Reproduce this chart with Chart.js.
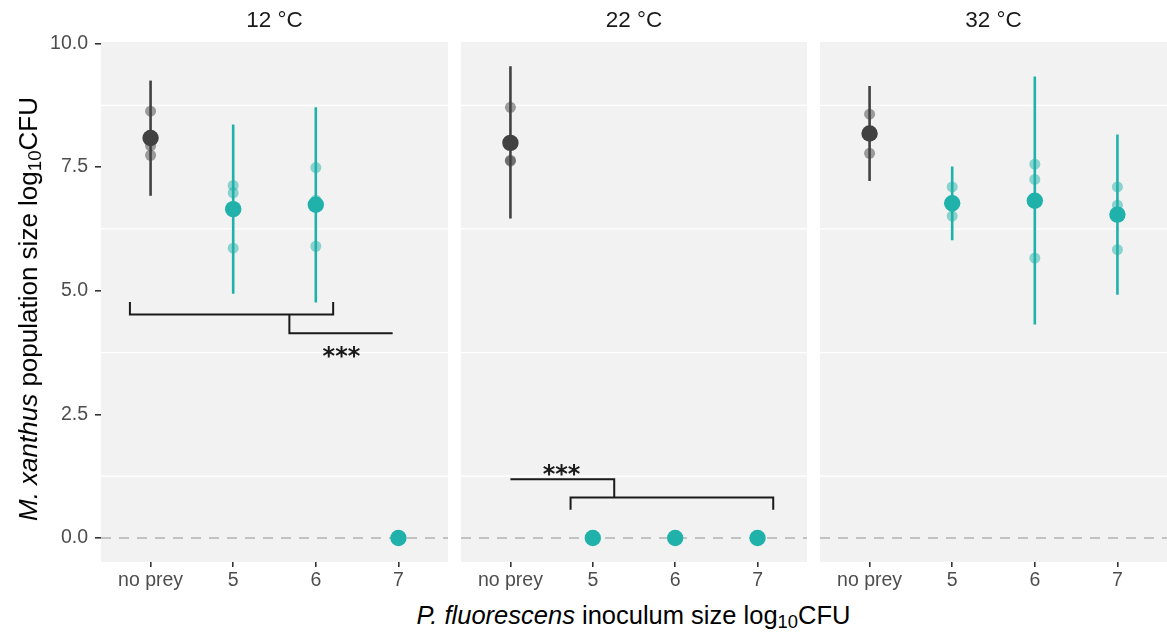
<!DOCTYPE html>
<html><head><meta charset="utf-8">
<script src="https://cdn.jsdelivr.net/npm/chart.js@4.4.1/dist/chart.umd.min.js"></script>
<style>
html,body{margin:0;padding:0;background:#fff;width:1167px;height:633px;overflow:hidden;position:relative;font-family:"Liberation Sans",Arial,sans-serif;}
canvas{position:absolute;top:0;}
.anchor{position:absolute;width:0;height:0;}
.title{position:absolute;white-space:nowrap;font-size:25.5px;line-height:1.15;color:#000;transform:translate(-50%,-50%);}
.rot{transform:translate(-50%,-50%) rotate(-90deg);font-size:26px;}
.title sub{font-size:0.72em;vertical-align:-0.22em;line-height:0;}
</style></head>
<body>
<canvas id="c1" width="455" height="600" style="left:0px;width:455px;height:600px"></canvas>
<canvas id="c2" width="358" height="600" style="left:455px;width:358px;height:600px"></canvas>
<canvas id="c3" width="354" height="600" style="left:813px;width:354px;height:600px"></canvas>
<div class="anchor" style="left:28.5px;top:309px"><div class="title rot"><i>M. xanthus</i> population size log<sub>10</sub>CFU</div></div>
<div class="anchor" style="left:633.5px;top:615.5px"><div class="title"><i>P. fluorescens</i> inoculum size log<sub>10</sub>CFU</div></div>
<script>
// ---- data ----
const categories = ['no prey', '5', '6', '7'];
const panelTitles = ['12 °C', '22 °C', '32 °C'];
const yTickValues = [0, 2.5, 5, 7.5, 10];
const yMinorValues = [1.25, 3.75, 6.25, 8.75];

const mean12 = [8.09, 6.65, 6.74, 0];
const low12  = [6.92, 4.94, 4.76, 0];
const high12 = [9.25, 8.36, 8.71, 0];
const reps12 = [[8.63, 7.93, 7.74], [7.13, 6.98, 5.86], [7.49, 6.83, 5.90], [0, 0, 0]];

const mean22 = [7.99, 0, 0, 0];
const low22  = [6.46, 0, 0, 0];
const high22 = [9.54, 0, 0, 0];
const reps22 = [[8.71, 7.64, 7.62], [0, 0, 0], [0, 0, 0], [0, 0, 0]];

const mean32 = [8.18, 6.77, 6.82, 6.54];
const low32  = [7.22, 6.02, 4.32, 4.92];
const high32 = [9.14, 7.51, 9.33, 8.16];
const reps32 = [[8.57, 8.19, 7.78], [7.10, 6.70, 6.51], [7.56, 7.25, 5.66], [7.10, 6.73, 5.83]];

// significance brackets (data coordinates) and star label positions
const bracket12 = [[[0.75, 4.77], [0.75, 4.52], [3.21, 4.52], [3.21, 4.77]], [[2.68, 4.52], [2.68, 4.14], [3.93, 4.14]]];
const star12 = [3.31, 3.80];
const bracket22 = [[[1.0, 1.19], [2.26, 1.19], [2.26, 0.82]], [[1.73, 0.57], [1.73, 0.82], [4.19, 0.82], [4.19, 0.57]]];
const star22 = [1.62, 1.41];
const starText = '***';

// ---- styles ----
const GREY = '#414141';
const GREY_A = 'rgba(65,65,65,0.5)';
const TEAL = '#20B2AA';
const TEAL_A = 'rgba(32,178,170,0.5)';
const PANEL_BG = '#F2F2F2';
const TICK_COL = '#333333';
const LABEL_COL = '#4D4D4D';
const FONT = '"Liberation Sans", Arial, sans-serif';

const panelPlugin = {
  id: 'panel',
  beforeDraw(chart) {
    const {ctx, chartArea: a} = chart;
    ctx.save();
    ctx.fillStyle = PANEL_BG;
    ctx.fillRect(a.left, a.top, a.right - a.left, a.bottom - a.top);
    ctx.restore();
  },
  beforeDatasetsDraw(chart) {
    const {ctx, chartArea: a, scales} = chart;
    const y = scales.y;
    ctx.save();
    ctx.strokeStyle = '#FFFFFF';
    ctx.lineWidth = 1.3;
    yMinorValues.forEach(v => {
      const py = y.getPixelForValue(v);
      ctx.beginPath(); ctx.moveTo(a.left, py); ctx.lineTo(a.right, py); ctx.stroke();
    });
    const p0 = y.getPixelForValue(0);
    ctx.strokeStyle = '#B3B3B3';
    ctx.lineWidth = 1.6;
    ctx.setLineDash([10, 8]);
    ctx.beginPath(); ctx.moveTo(a.left, p0); ctx.lineTo(a.right, p0); ctx.stroke();
    ctx.restore();
  },
  afterDraw(chart) {
    const {ctx, chartArea: a, scales} = chart;
    const o = chart.options.plugins.panel;
    ctx.save();
    ctx.fillStyle = '#1A1A1A';
    ctx.font = '22.5px ' + FONT;
    ctx.textAlign = 'center';
    ctx.textBaseline = 'middle';
    ctx.fillText(o.title, (a.left + a.right) / 2, 21);
    if (o.star) {
      ctx.font = 'bold 24px "DejaVu Sans"';
      ctx.fillStyle = '#1A1A1A';
      ctx.textBaseline = 'alphabetic';
      const sx = scales.x.getPixelForValue(o.star[0]);
      const sy = scales.y.getPixelForValue(o.star[1]);
      ctx.fillText(starText, sx, sy + 14);
    }
    ctx.restore();
  }
};

function makePanel(id, idx, means, lows, highs, reps, brackets, star, showY, padL, padR) {
  const meanData = means.map((m, i) => ({x: i + 1, y: m}));
  const meanCols = means.map((m, i) => i === 0 ? GREY : TEAL);
  const repData = [], repCols = [];
  reps.forEach((arr, i) => arr.forEach(v => { repData.push({x: i + 1, y: v}); repCols.push(i === 0 ? GREY_A : TEAL_A); }));
  const errGrey = [{x: 1, y: lows[0]}, {x: 1, y: highs[0]}];
  const errTeal = [];
  for (let i = 1; i < means.length; i++) {
    errTeal.push({x: i + 1, y: lows[i]}, {x: i + 1, y: highs[i]}, {x: i + 1, y: null});
  }
  const brData = [];
  (brackets || []).forEach(poly => { poly.forEach(p => brData.push({x: p[0], y: p[1]})); brData.push({x: poly[poly.length - 1][0], y: null}); });

  const datasets = [
    {data: meanData, backgroundColor: meanCols, pointRadius: 8.2, pointBorderWidth: 0, order: 0},
    {data: repData, backgroundColor: repCols, pointRadius: 5.5, pointBorderWidth: 0, order: 1},
    {data: errGrey, showLine: true, borderColor: GREY, borderWidth: 2.6, pointRadius: 0, borderCapStyle: 'butt', order: 2},
    {data: errTeal, showLine: true, borderColor: TEAL, borderWidth: 2.6, pointRadius: 0, borderCapStyle: 'butt', spanGaps: false, order: 2},
    {data: brData, showLine: true, borderColor: '#1A1A1A', borderWidth: 2, pointRadius: 0, borderCapStyle: 'butt', borderJoinStyle: 'miter', spanGaps: false, order: 3}
  ];

  const yScale = {
    type: 'linear', min: -0.485, max: 10.03, display: showY,
    afterBuildTicks: s => { s.ticks = yTickValues.map(v => ({value: v})); },
    ticks: {callback: v => Number(v).toFixed(1), color: LABEL_COL, padding: 7, font: {family: FONT, size: 19.5}},
    grid: {drawOnChartArea: false, drawTicks: true, tickLength: 6, color: TICK_COL, lineWidth: 1.6},
    border: {display: false}
  };
  if (showY) yScale.afterFit = s => { s.width = 101; };

  return new Chart(document.getElementById(id), {
    type: 'scatter',
    data: {datasets},
    plugins: [panelPlugin],
    options: {
      responsive: false,
      animation: false,
      events: [],
      layout: {autoPadding: false, padding: {top: 42, left: padL, right: padR, bottom: 0}},
      plugins: {legend: {display: false}, tooltip: {enabled: false}, panel: {title: panelTitles[idx], star}},
      scales: {
        x: {
          type: 'linear', min: 0.4, max: 4.6,
          afterBuildTicks: s => { s.ticks = categories.map((c, i) => ({value: i + 1})); },
          afterFit: s => { s.height = 38; s.paddingLeft = 0; s.paddingRight = 0; },
          ticks: {callback: v => categories[v - 1], autoSkip: false, maxRotation: 0, color: LABEL_COL, padding: 2, font: {family: FONT, size: 19.5}},
          grid: {drawOnChartArea: false, drawTicks: true, tickLength: 5, color: TICK_COL, lineWidth: 1.6},
          border: {display: false}
        },
        y: yScale
      }
    }
  });
}

makePanel('c1', 0, mean12, low12, high12, reps12, bracket12, star12, true, 0, 7);
makePanel('c2', 1, mean22, low22, high22, reps22, bracket22, star22, false, 6, 6);
makePanel('c3', 2, mean32, low32, high32, reps32, null, null, false, 7, 0);
</script>
</body></html>
